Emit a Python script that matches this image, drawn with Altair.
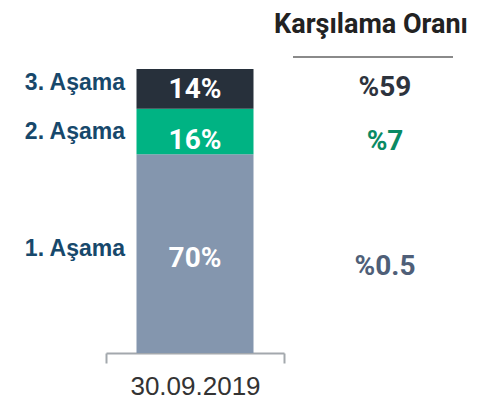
import altair as alt
import pandas as pd

# ---- data ----
date_label = "30.09.2019"
stages = ["1. Aşama", "2. Aşama", "3. Aşama"]
shares = [70, 16, 14]
coverage = ["%0.5", "%7", "%59"]
header = "Karşılama Oranı"

# ---- styles ----
bar_colors = ["#8496ae", "#00b383", "#27303b"]
cov_colors = ["#4f5f78", "#0a8a63", "#2d333d"]
stage_color = "#17486b"
narrow = "Roboto"
regular = "Liberation Sans"
# per-stage vertical text offsets (pixels) : bar label, left label, right label
dy_bar = [13, 18, 9]
dy_left = [2, 8, 1]
dy_right = [21, 19, 7]

df = pd.DataFrame({
    "date": [date_label] * len(stages),
    "stage": stages,
    "share": shares,
    "coverage": coverage,
    "order": list(range(len(stages))),
})
df["label"] = df["share"].astype(str) + "%"
df["y1"] = df["share"].cumsum() - df["share"]
df["y2"] = df["share"].cumsum()
df["mid"] = (df["y1"] + df["y2"]) / 2

yscale = alt.Scale(domain=[0, 100])
xscale = alt.Scale(paddingInner=0, paddingOuter=0)

bars = alt.Chart(df).mark_bar(width=117).encode(
    x=alt.X("date:N", scale=xscale, title=None,
            axis=alt.Axis(domain=True, domainColor="#a3a8ad", domainWidth=2,
                          ticks=True, tickBand="extent", tickSize=10,
                          tickColor="#a3a8ad", tickWidth=2,
                          labelFont=regular, labelFontSize=26, labelColor="#333333",
                          labelPadding=10, labelAngle=0, grid=False)),
    y=alt.Y("y1:Q", scale=yscale, axis=None),
    y2="y2:Q",
    color=alt.Color("stage:N", scale=alt.Scale(domain=stages, range=bar_colors), legend=None),
)

layers = [bars]
for i, s in enumerate(stages):
    sub = alt.Chart(df).transform_filter(alt.datum.stage == s)
    layers.append(sub.mark_text(font=narrow, fontWeight="bold", fontSize=28, color="white",
                                align="center", baseline="alphabetic", dy=dy_bar[i]).encode(
        x=alt.X("date:N", scale=xscale), y=alt.Y("mid:Q", scale=yscale), text="label:N"))
    layers.append(sub.mark_text(font=regular, fontWeight="bold", fontSize=23, color=stage_color,
                                align="right", baseline="alphabetic", dy=dy_left[i]).encode(
        x=alt.value(19), y=alt.Y("mid:Q", scale=yscale), text="stage:N"))
    layers.append(sub.mark_text(font=narrow, fontWeight="bold", fontSize=28, color=cov_colors[i],
                                align="center", baseline="alphabetic", dy=dy_right[i]).encode(
        x=alt.value(279), y=alt.Y("mid:Q", scale=yscale), text="coverage:N"))

one = alt.Chart(pd.DataFrame({"t": [header]}))
layers.append(one.mark_text(font=narrow, fontWeight="bold", fontSize=27, color="#222222",
                            align="center", baseline="alphabetic").encode(
    x=alt.value(265), y=alt.value(-36), text="t:N"))
layers.append(one.mark_rule(color="#8a8a8a", strokeWidth=2).encode(
    x=alt.value(187), x2=alt.value(347), y=alt.value(-12)))

chart = alt.layer(*layers).properties(
    width=178, height=284,
    autosize=alt.AutoSizeParams(type="none"),
    padding={"left": 98, "top": 61, "right": 205, "bottom": 49},
).configure_view(stroke=None)

chart.save("out.html", embed_options={"renderer": "svg", "actions": False})
